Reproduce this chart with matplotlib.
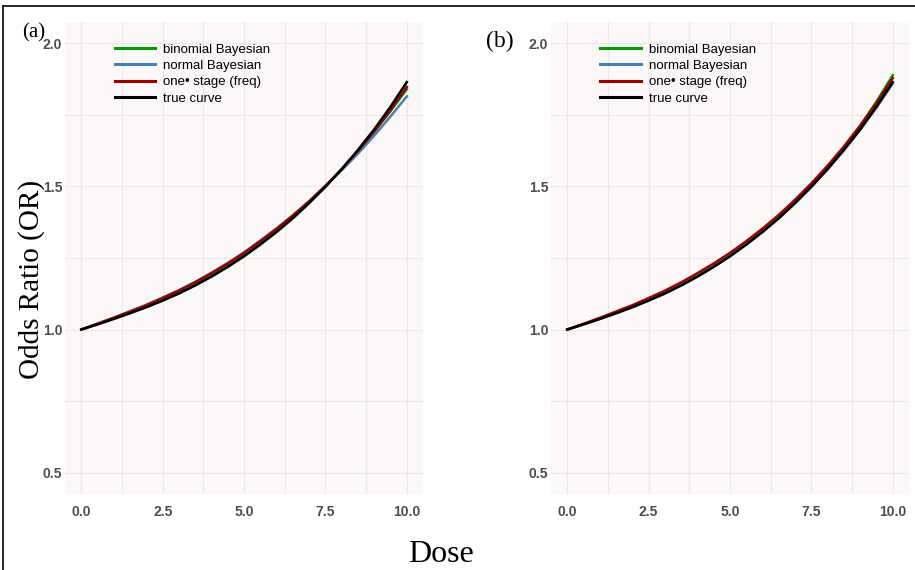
import matplotlib
matplotlib.use("Agg")
import matplotlib.pyplot as plt
from matplotlib.lines import Line2D

dose = [0.0, 0.5, 1.0, 1.5, 2.0, 2.5, 3.0, 3.5, 4.0, 4.5, 5.0,
        5.5, 6.0, 6.5, 7.0, 7.5, 8.0, 8.5, 9.0, 9.5, 10.0]

true_curve = [1.000, 1.018, 1.037, 1.057, 1.078, 1.101, 1.126, 1.154, 1.185, 1.219, 1.256,
              1.297, 1.341, 1.389, 1.442, 1.499, 1.561, 1.628, 1.700, 1.779, 1.865]

# panel (a)
binom_a = [1.000, 1.019, 1.039, 1.060, 1.082, 1.105, 1.131, 1.159, 1.190, 1.224, 1.261,
           1.302, 1.345, 1.392, 1.444, 1.500, 1.559, 1.623, 1.692, 1.764, 1.840]
normal_a = [1.000, 1.021, 1.042, 1.064, 1.087, 1.112, 1.138, 1.167, 1.199, 1.233, 1.270,
            1.311, 1.354, 1.400, 1.449, 1.503, 1.557, 1.615, 1.678, 1.745, 1.815]
freq_a = [1.000, 1.020, 1.041, 1.063, 1.085, 1.110, 1.136, 1.165, 1.197, 1.231, 1.268,
          1.309, 1.352, 1.398, 1.448, 1.502, 1.561, 1.624, 1.692, 1.767, 1.848]

# panel (b)
binom_b = [1.000, 1.019, 1.038, 1.059, 1.080, 1.104, 1.129, 1.157, 1.188, 1.222, 1.259,
           1.300, 1.345, 1.394, 1.448, 1.506, 1.569, 1.638, 1.712, 1.797, 1.889]
normal_b = [1.000, 1.018, 1.037, 1.057, 1.079, 1.102, 1.127, 1.155, 1.186, 1.220, 1.257,
            1.298, 1.342, 1.390, 1.443, 1.500, 1.561, 1.627, 1.698, 1.776, 1.860]
freq_b = [1.000, 1.020, 1.041, 1.063, 1.085, 1.110, 1.136, 1.165, 1.197, 1.231, 1.268,
          1.309, 1.353, 1.401, 1.454, 1.511, 1.573, 1.640, 1.713, 1.792, 1.879]

series_names = ["binomial Bayesian", "normal Bayesian", "one\u2022 stage (freq)", "true curve"]
series_colors = ["#009a00", "#4682b4", "#990000", "#000000"]

x_ticks = [0.0, 2.5, 5.0, 7.5, 10.0]
x_minor = [1.25, 3.75, 6.25, 8.75]
y_ticks = [0.5, 1.0, 1.5, 2.0]
y_minor = [0.75, 1.25, 1.75]

sans = ["Liberation Sans", "DejaVu Sans"]
serif = ["Liberation Serif", "DejaVu Serif"]

panel_bg = "#fcf8f7"
grid_col = "#ece8e8"

fig = plt.figure(figsize=(9.15, 5.7), dpi=100)
ax_a = fig.add_axes([0.0711, 0.1333, 0.3913, 0.8281])
ax_b = fig.add_axes([0.6022, 0.1333, 0.3913, 0.8281])


def draw_panel(ax, curves):
    ax.set_facecolor(panel_bg)
    for s in ax.spines.values():
        s.set_visible(False)
    for xv in x_ticks + x_minor:
        ax.axvline(xv, color=grid_col, lw=0.9, zorder=0)
    for yv in y_ticks + y_minor:
        ax.axhline(yv, color=grid_col, lw=0.9, zorder=0)
    for vals, name, col in zip(curves, series_names, series_colors):
        ax.plot(dose, vals, color=col, lw=1.8, label=name, zorder=2)
    ax.set_xlim(-0.5, 10.5)
    ax.set_ylim(0.425, 2.075)
    ax.set_xticks(x_ticks)
    ax.set_xticklabels([f"{v:.1f}" for v in x_ticks])
    ax.set_yticks(y_ticks)
    ax.set_yticklabels([f"{v:.1f}" for v in y_ticks])
    ax.tick_params(length=0, labelsize=10, labelcolor="#4d4d4d")
    ax.tick_params(axis="x", pad=8)
    ax.tick_params(axis="y", pad=2)
    for lab in ax.get_xticklabels() + ax.get_yticklabels():
        lab.set_family(sans)
        lab.set_fontweight("bold")
    leg = ax.legend(loc="upper left", bbox_to_anchor=(0.105, 0.98), frameon=False,
                    handlelength=3.1, handletextpad=0.6, labelspacing=0.31,
                    prop={"family": sans, "size": 9.5})
    for h in leg.get_lines():
        h.set_linewidth(2.2)


draw_panel(ax_a, [binom_a, normal_a, freq_a, true_curve])
draw_panel(ax_b, [binom_b, normal_b, freq_b, true_curve])

# panel tags and shared axis titles
fig.text(0.037, 0.942, "(a)", family=serif, fontsize=15, ha="center", va="center")
fig.text(0.546, 0.928, "(b)", family=serif, fontsize=17, ha="center", va="center")
fig.text(0.034, 0.51, "Odds Ratio (OR)", family=serif, fontsize=21,
         rotation=90, ha="center", va="center")
fig.text(0.482, 0.028, "Dose", family=serif, fontsize=23, ha="center", va="center")

# outer frame (top and left edges)
fig.add_artist(Line2D([0.0033, 1.0], [0.9895, 0.9895], color="black", lw=1.2))
fig.add_artist(Line2D([0.0033, 0.0033], [0.0, 0.9895], color="black", lw=1.2))

fig.savefig("out.png", dpi=100)
